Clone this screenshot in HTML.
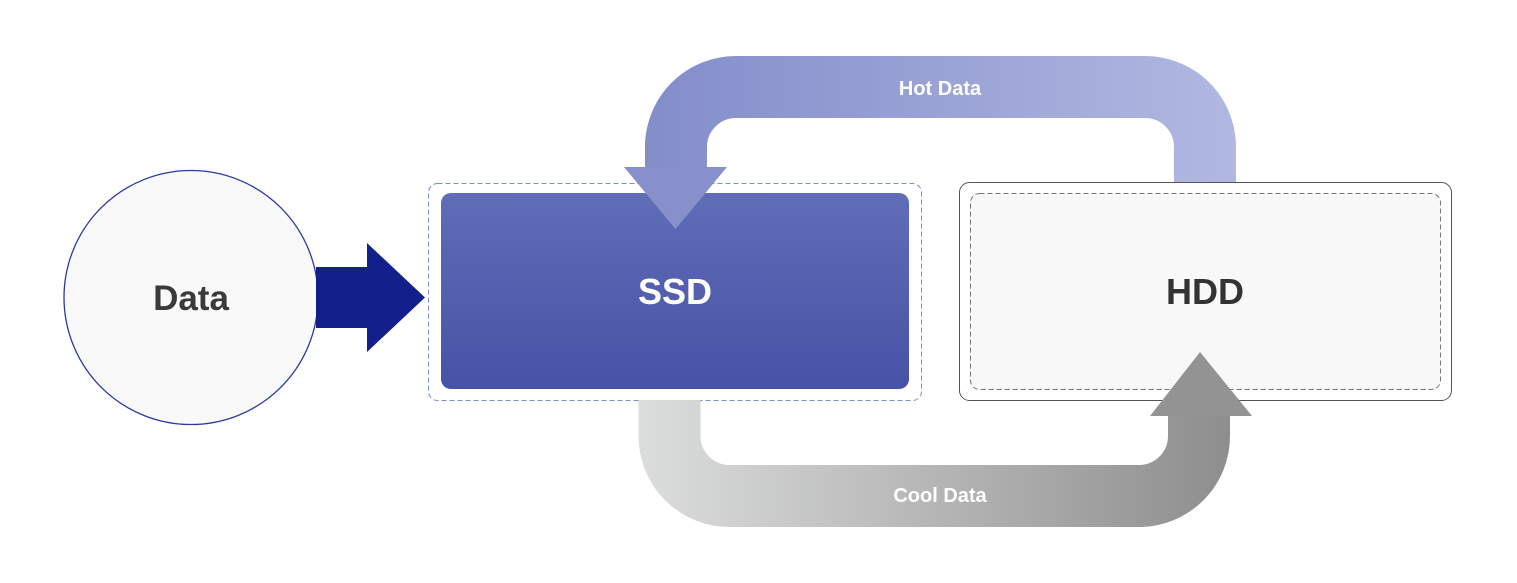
<!DOCTYPE html>
<html><head><meta charset="utf-8"><style>
html,body{margin:0;padding:0;background:#fff;}
svg{display:block;}
text{font-family:"Liberation Sans",sans-serif;font-weight:bold;}
</style></head><body>
<svg width="1517" height="583" viewBox="0 0 1517 583" xmlns="http://www.w3.org/2000/svg">
<defs>
<linearGradient id="hot" gradientUnits="userSpaceOnUse" x1="645" y1="0" x2="1236" y2="0">
<stop offset="0" stop-color="#838dca"/><stop offset="1" stop-color="#b1b8e1"/></linearGradient>
<linearGradient id="cool" gradientUnits="userSpaceOnUse" x1="638" y1="0" x2="1230" y2="0">
<stop offset="0" stop-color="#dcdddd"/><stop offset="1" stop-color="#8e8e8e"/></linearGradient>
<linearGradient id="ssd" x1="0" y1="0" x2="0" y2="1">
<stop offset="0" stop-color="#606db7"/><stop offset="1" stop-color="#4852a6"/></linearGradient>
</defs>
<circle cx="191" cy="297.5" r="127" fill="#f9f9f9" stroke="#2b3a9e" stroke-width="1.3"/>
<text x="191" y="310" font-size="35" fill="#3a3a3a" text-anchor="middle">Data</text>
<polygon points="316,267 367,267 367,243 425,297.5 367,352 367,328 316,328" fill="#13208c"/>
<rect x="428.5" y="183.5" width="493" height="217" rx="9" fill="#fff" stroke="#7f88c8" stroke-width="1" stroke-dasharray="5,3"/>
<rect x="441" y="193" width="468" height="196" rx="10" fill="url(#ssd)"/>
<text x="675" y="304" font-size="36" fill="#fff" text-anchor="middle">SSD</text>
<rect x="959.5" y="182.5" width="492" height="218" rx="10" fill="#fff" stroke="#555" stroke-width="1"/>
<rect x="970.5" y="193.5" width="470" height="196" rx="9" fill="#f8f8f8" stroke="#777" stroke-width="1" stroke-dasharray="5,3"/>
<text x="1205" y="304" font-size="36" fill="#333" text-anchor="middle">HDD</text>
<path d="M1205,182 V147 A60,60 0 0 0 1145,87 H736 A60,60 0 0 0 676,147 V168" fill="none" stroke="url(#hot)" stroke-width="62"/>
<polygon points="624,167 727,167 675.5,229" fill="#8790cb"/>
<text x="940" y="95" font-size="20" fill="#fff" text-anchor="middle">Hot Data</text>
<path d="M669.5,400 V436 A60,60 0 0 0 729.5,496 H1139 A60,60 0 0 0 1199,436 V415" fill="none" stroke="url(#cool)" stroke-width="62"/>
<polygon points="1150,416 1252,416 1200,352" fill="#939393"/>
<text x="940" y="502" font-size="20" fill="#fff" text-anchor="middle">Cool Data</text>
</svg>
</body></html>
